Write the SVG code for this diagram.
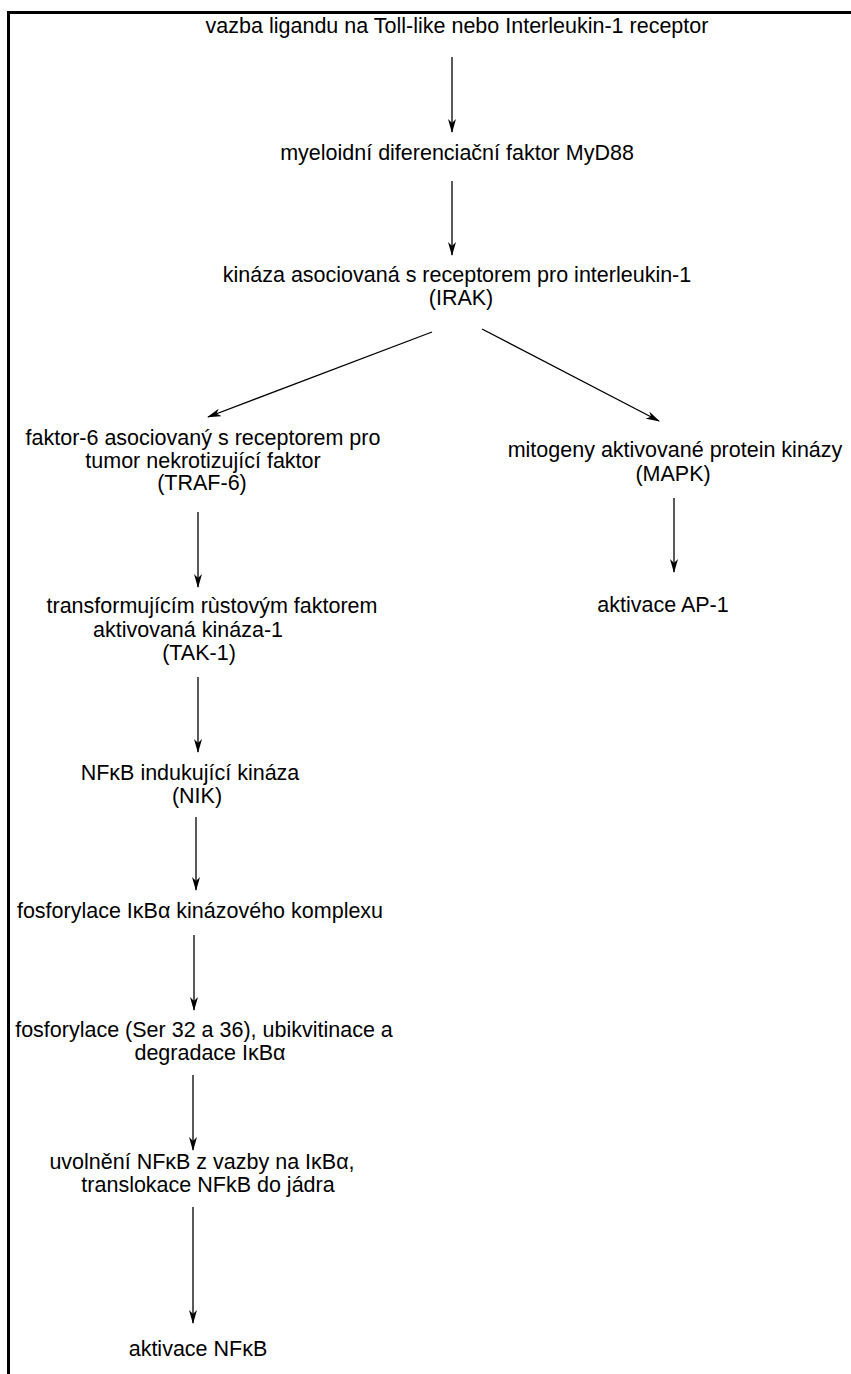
<svg xmlns="http://www.w3.org/2000/svg" width="851" height="1374" viewBox="0 0 851 1374">
<style>
text{font-family:"Liberation Sans",Arial,sans-serif;font-size:21.5px;fill:#000;text-anchor:middle}
.c{stroke:#000;stroke-width:1.3;fill:none;marker-end:url(#ah)}
.frame{stroke:#000;stroke-width:3;fill:none}
</style>
<defs>
<marker id="ah" viewBox="0 0 14 8" refX="13" refY="4" markerWidth="14" markerHeight="8" markerUnits="userSpaceOnUse" orient="auto">
<path d="M0,0 L14,4 L0,8 L4,4 z" fill="#000"/>
</marker>
</defs>
<g id="frame">
<path class="frame" d="M8.5,1374 V12.5 H851"/>
</g>
<g id="connectors">
<line class="c" x1="452" y1="57" x2="452" y2="132"/>
<line class="c" x1="452" y1="181" x2="452" y2="255"/>
<line class="c" x1="432" y1="332" x2="208" y2="417"/>
<line class="c" x1="482" y1="329" x2="659" y2="421"/>
<line class="c" x1="674" y1="498" x2="674" y2="572"/>
<line class="c" x1="198" y1="512" x2="198" y2="587"/>
<line class="c" x1="198" y1="677" x2="198" y2="752"/>
<line class="c" x1="196" y1="817" x2="196" y2="890"/>
<line class="c" x1="194" y1="935" x2="194" y2="1010"/>
<line class="c" x1="193" y1="1075" x2="193" y2="1150"/>
<line class="c" x1="193" y1="1207" x2="193" y2="1323"/>
</g>
<g id="n1"><text x="457" y="33">vazba ligandu na Toll-like nebo Interleukin-1 receptor</text></g>
<g id="n2"><text x="457" y="160">myeloidní diferenciační faktor MyD88</text></g>
<g id="n3"><text x="457" y="282">kináza asociovaná s receptorem pro interleukin-1</text><text x="461" y="305">(IRAK)</text></g>
<g id="n4"><text x="203" y="445">faktor-6 asociovaný s receptorem pro</text><text x="203" y="468">tumor nekrotizující faktor</text><text x="202" y="490">(TRAF-6)</text></g>
<g id="n5"><text x="675" y="457">mitogeny aktivované protein kinázy</text><text x="673" y="481">(MAPK)</text></g>
<g id="n6"><text x="663" y="612">aktivace AP-1</text></g>
<g id="n7"><text x="212" y="613">transformujícím rùstovým faktorem</text><text x="188" y="637">aktivovaná kináza-1</text><text x="199" y="660">(TAK-1)</text></g>
<g id="n8"><text x="190" y="780">NFκB indukující kináza</text><text x="197" y="803">(NIK)</text></g>
<g id="n9"><text x="200" y="918">fosforylace IκBα kinázového komplexu</text></g>
<g id="n10"><text x="204" y="1037">fosforylace (Ser 32 a 36), ubikvitinace a</text><text x="210" y="1060">degradace IκBα</text></g>
<g id="n11"><text x="202" y="1169">uvolnění NFκB z vazby na IκBα,</text><text x="208" y="1192">translokace NFkB do jádra</text></g>
<g id="n12"><text x="198" y="1356">aktivace NFκB</text></g>
</svg>
